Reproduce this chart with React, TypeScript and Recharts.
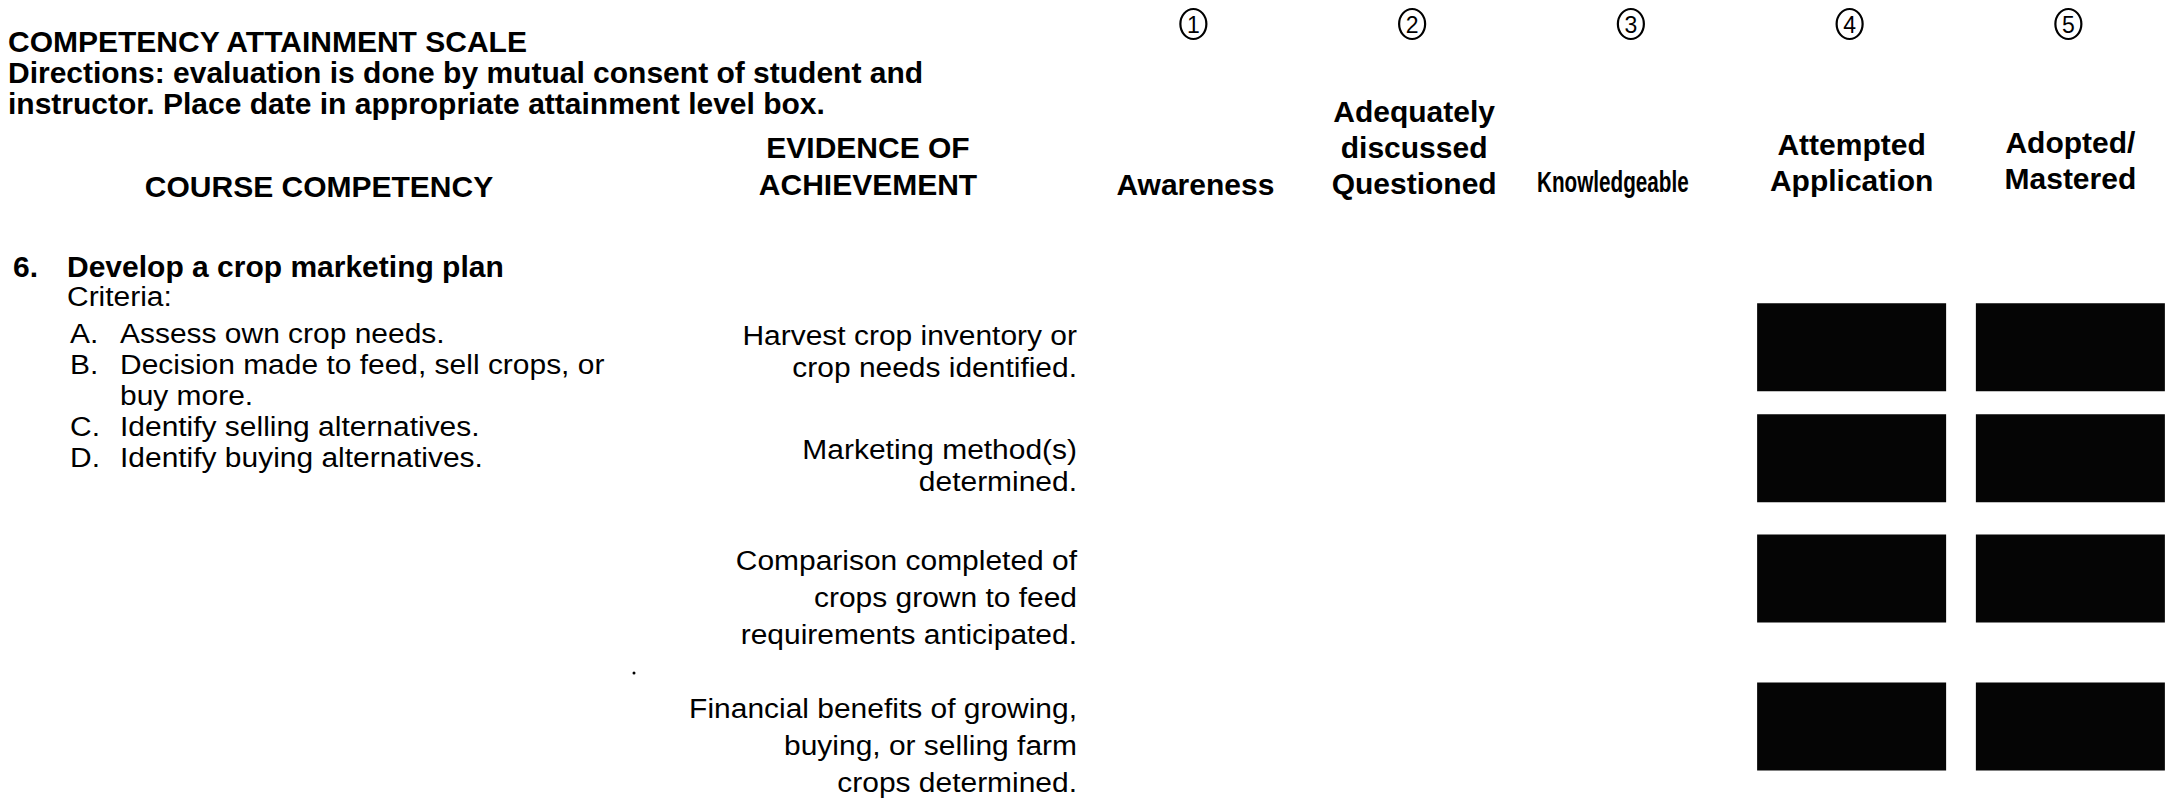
import React from "react";
import { ScatterChart, Scatter, XAxis, YAxis, Customized } from "recharts";

const FONT = '"Liberation Sans", Arial, Helvetica, sans-serif';

// attainment scale columns
const levelNumbers = [1, 2, 3, 4, 5];
const levelLabels = [
  ["Awareness"],
  ["Adequately", "discussed", "Questioned"],
  ["Knowledgeable"],
  ["Attempted", "Application"],
  ["Adopted/", "Mastered"],
];

// evidence of achievement, one entry per row
const evidenceLines = [
  ["Harvest crop inventory or", "crop needs identified."],
  ["Marketing method(s)", "determined."],
  ["Comparison completed of", "crops grown to feed", "requirements anticipated."],
  ["Financial benefits of growing,", "buying, or selling farm", "crops determined."],
];

// levels that were blacked out (dated) for each evidence row
const attainedLevels = [
  [4, 5],
  [4, 5],
  [4, 5],
  [4, 5],
];

const competencyNumber = "6.";
const competencyTitle = "Develop a crop marketing plan";
const criteriaItems = [
  ["A.", "Assess own crop needs."],
  ["B.", "Decision made to feed, sell crops, or"],
  ["", "buy more."],
  ["C.", "Identify selling alternatives."],
  ["D.", "Identify buying alternatives."],
];

// each evidence row starts one blank line after the previous one
const rowStart: number[] = [];
let acc = 0;
evidenceLines.forEach((lines) => {
  rowStart.push(acc);
  acc += lines.length + 1;
});

const boxes = attainedLevels.flatMap((levels, i) =>
  levels.map((level) => ({
    level,
    line: rowStart[i] + (evidenceLines[i].length - 1) / 4,
  }))
);

const BOX_W = 189;
const BOX_H = 88;

function Txt({ x, y, children, size = 30, bold = false, anchor = "start", sx = 1 }: any) {
  return (
    <text
      transform={`translate(${x},${y}) scale(${sx},1)`}
      textAnchor={anchor}
      fontFamily={FONT}
      fontSize={size}
      fontWeight={bold ? 700 : 400}
      fill="#000"
    >
      {children}
    </text>
  );
}

function LevelTick({ x, payload }: any) {
  const i = levelNumbers.indexOf(payload.value);
  const lines = levelLabels[i] || [];
  // the scanned page is slightly tilted
  const lastBase = 195 - i * 1.5;
  const narrow = (l: string) => l === "Knowledgeable";
  return (
    <g>
      <ellipse cx={x - 2} cy={24} rx={13} ry={15} fill="none" stroke="#000" strokeWidth={2.2} />
      <Txt x={x - 2} y={32.5} size={23} anchor="middle">
        {String(payload.value)}
      </Txt>
      {lines.map((l, k) => (
        <Txt
          key={k}
          x={narrow(l) ? x - 20 : x}
          y={lastBase - (lines.length - 1 - k) * 36}
          bold
          anchor="middle"
          sx={narrow(l) ? 0.69 : 1}
        >
          {l}
        </Txt>
      ))}
    </g>
  );
}

function EvidenceTick({ y, payload }: any) {
  const i = rowStart.indexOf(payload.value);
  const lines = evidenceLines[i] || [];
  const gap = lines.length > 2 ? 37 : 32;
  const shift = i === 0 ? -3 : 0;
  return (
    <g>
      {lines.map((l, k) => (
        <Txt key={k} x={1077} y={y + 10 + shift + k * gap} size={28} sx={1.07} anchor="end">
          {l}
        </Txt>
      ))}
    </g>
  );
}

function BoxShape({ cx, cy }: any) {
  return <rect x={cx - BOX_W / 2} y={cy - BOX_H / 2} width={BOX_W} height={BOX_H} fill="#050505" />;
}

function FormText() {
  return (
    <g>
      <Txt x={8} y={52} bold>
        COMPETENCY ATTAINMENT SCALE
      </Txt>
      <Txt x={8} y={83} bold>
        Directions: evaluation is done by mutual consent of student and
      </Txt>
      <Txt x={8} y={114} bold>
        instructor. Place date in appropriate attainment level box.
      </Txt>
      <Txt x={319} y={197} bold anchor="middle">
        COURSE COMPETENCY
      </Txt>
      <Txt x={868} y={158} bold anchor="middle">
        EVIDENCE OF
      </Txt>
      <Txt x={868} y={195} bold anchor="middle">
        ACHIEVEMENT
      </Txt>
      <Txt x={13} y={277} bold>
        {competencyNumber}
      </Txt>
      <Txt x={67} y={277} bold>
        {competencyTitle}
      </Txt>
      <Txt x={67} y={306} size={28} sx={1.07}>
        Criteria:
      </Txt>
      {criteriaItems.map(([letter, text], k) => (
        <g key={k}>
          <Txt x={70} y={343 + k * 31} size={28} sx={1.07}>
            {letter}
          </Txt>
          <Txt x={120} y={343 + k * 31} size={28} sx={1.07}>
            {text}
          </Txt>
        </g>
      ))}
      <circle cx={634} cy={673} r={1.5} fill="#000" />
    </g>
  );
}

export default function App() {
  return (
    <div style={{ position: "absolute", left: 0, top: 0, width: 2184, height: 804, background: "#fff" }}>
      <ScatterChart width={2184} height={804} margin={{ top: 0, right: 4.25, bottom: 3.5, left: 0 }}>
        <XAxis
          type="number"
          dataKey="level"
          orientation="top"
          domain={[0.5, 5.5]}
          ticks={levelNumbers}
          interval={0}
          height={190}
          axisLine={false}
          tickLine={false}
          tick={<LevelTick />}
        />
        <YAxis
          type="number"
          dataKey="line"
          domain={[-4, 12.5]}
          reversed
          width={1086}
          ticks={rowStart}
          interval={0}
          axisLine={false}
          tickLine={false}
          tick={<EvidenceTick />}
          allowDataOverflow
        />
        <Scatter data={boxes} shape={<BoxShape />} isAnimationActive={false} />
        <Customized component={FormText} />
      </ScatterChart>
    </div>
  );
}
